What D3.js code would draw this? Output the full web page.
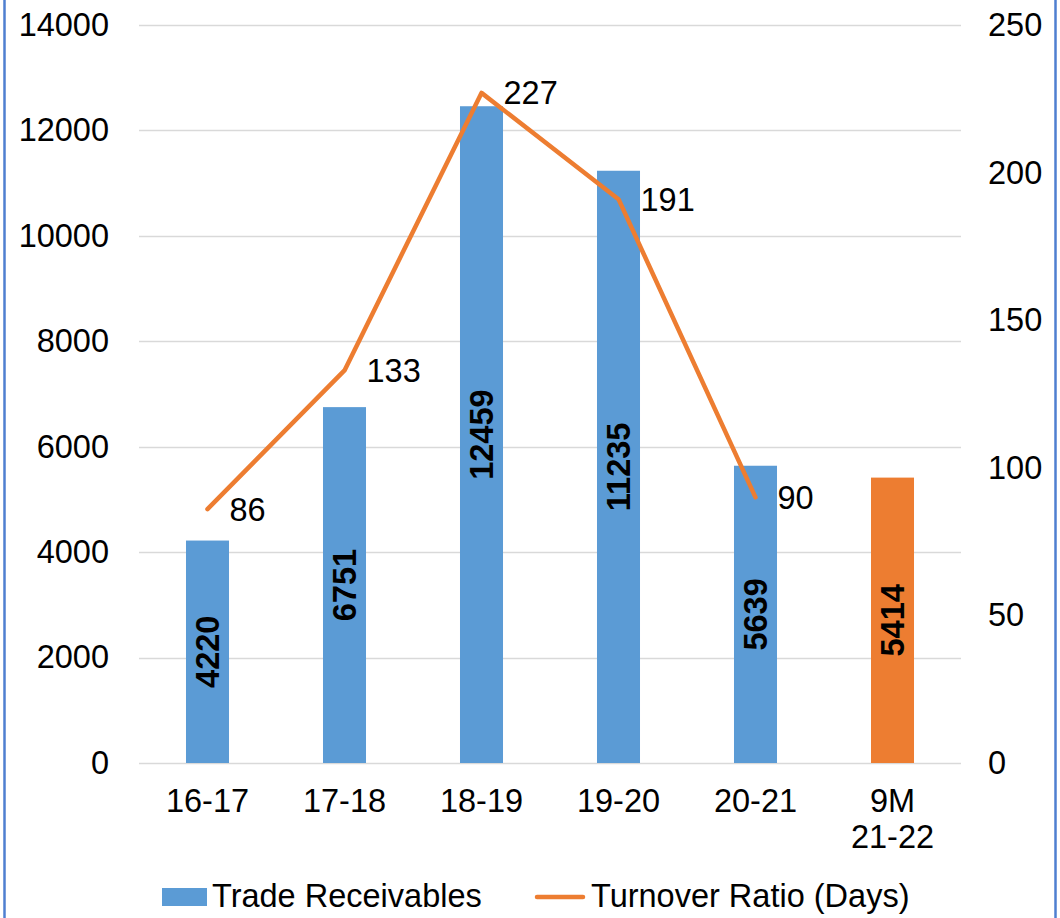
<!DOCTYPE html>
<html>
<head>
<meta charset="utf-8">
<script src="https://cdn.jsdelivr.net/npm/d3@7"></script>
<style>
  body { margin: 0; background: #fff; }
  svg { display: block; font-family: "Liberation Sans", Arial, sans-serif; }
</style>
</head>
<body>
<div id="chart"></div>
<script>
// chart data
var categories = ["16-17", "17-18", "18-19", "19-20", "20-21", "9M 21-22"];
var receivables = [4220, 6751, 12459, 11235, 5639, 5414];
var turnoverDays = [86, 133, 227, 191, 90, null];
var leftTicks = [0, 2000, 4000, 6000, 8000, 10000, 12000, 14000];
var rightTicks = [0, 50, 100, 150, 200, 250];

var width = 1060, height = 918;
var blue = "#5B9BD5", orange = "#ED7D31";
var fs = "32.5px";

var svg = d3.select("#chart")
    .append("svg")
    .attr("width", width)
    .attr("height", height);

// frame lines on the sides
svg.append("line").attr("x1", 4.5).attr("x2", 4.5).attr("y1", 0).attr("y2", height)
    .style("stroke", "#4F7FD0").style("stroke-width", 2.5);
svg.append("line").attr("x1", 1055.5).attr("x2", 1055.5).attr("y1", 0).attr("y2", height)
    .style("stroke", "#4F7FD0").style("stroke-width", 2.5);

var x = d3.scaleBand()
    .domain(categories)
    .range([139, 961])
    .paddingInner(0.686)
    .paddingOuter(0.343);

var yL = d3.scaleLinear().domain([0, 14000]).range([763, 25]);
var yR = d3.scaleLinear().domain([0, 250]).range([763, 25]);

// gridlines
svg.selectAll(".grid")
    .data(leftTicks)
    .enter().append("line")
    .attr("x1", 139)
    .attr("x2", 961)
    .attr("y1", function(d){ return Math.round(yL(d)) + 0.5; })
    .attr("y2", function(d){ return Math.round(yL(d)) + 0.5; })
    .style("stroke", "#d9d9d9")
    .style("stroke-width", 1.5);

// left axis
var leftAxis = svg.append("g")
    .attr("transform", "translate(109,0)")
    .call(d3.axisLeft(yL).tickValues(leftTicks).tickFormat(d3.format("d")).tickSize(0).tickPadding(0));
leftAxis.select(".domain").remove();
leftAxis.selectAll("text")
    .style("font-size", fs)
    .style("fill", "#000")
    .attr("dy", "0.32em");

// right axis
var rightAxis = svg.append("g")
    .attr("transform", "translate(988,0)")
    .call(d3.axisRight(yR).tickValues(rightTicks).tickFormat(d3.format("d")).tickSize(0).tickPadding(0));
rightAxis.select(".domain").remove();
rightAxis.selectAll("text")
    .style("font-size", fs)
    .style("fill", "#000")
    .attr("dy", "0.32em");

// bars
svg.selectAll(".bar")
    .data(receivables)
    .enter().append("rect")
    .attr("x", function(d, i){ return x(categories[i]); })
    .attr("width", x.bandwidth())
    .attr("y", function(d){ return yL(d); })
    .attr("height", function(d){ return yL(0) - yL(d); })
    .style("fill", function(d, i){ return i === categories.length - 1 ? orange : blue; });

// bar value labels (rotated, centred in bar)
svg.selectAll(".barlabel")
    .data(receivables)
    .enter().append("text")
    .attr("transform", function(d, i){
        var cx = x(categories[i]) + x.bandwidth() / 2;
        var cy = (yL(d) + yL(0)) / 2;
        return "translate(" + cx + "," + cy + ") rotate(-90)";
    })
    .attr("text-anchor", "middle")
    .attr("dy", "0.35em")
    .style("font-size", fs)
    .style("font-weight", "bold")
    .style("fill", "#000")
    .text(function(d){ return d; });

// turnover line
var linePts = turnoverDays
    .map(function(d, i){ return {c: categories[i], v: d}; })
    .filter(function(p){ return p.v !== null; });

var line = d3.line()
    .x(function(p){ return x(p.c) + x.bandwidth() / 2; })
    .y(function(p){ return yR(p.v); });

svg.append("path")
    .datum(linePts)
    .attr("d", line)
    .style("fill", "none")
    .style("stroke", orange)
    .style("stroke-width", 4.5)
    .style("stroke-linecap", "round")
    .style("stroke-linejoin", "round");

svg.selectAll(".linelabel")
    .data(linePts)
    .enter().append("text")
    .attr("x", function(p){ return x(p.c) + x.bandwidth() / 2 + 22; })
    .attr("y", function(p){ return yR(p.v); })
    .attr("dy", "0.35em")
    .style("font-size", fs)
    .style("fill", "#000")
    .text(function(p){ return p.v; });

// category labels
var xl = svg.selectAll(".xlabel")
    .data(categories)
    .enter().append("text")
    .attr("x", function(d){ return x(d) + x.bandwidth() / 2; })
    .attr("y", 812)
    .attr("text-anchor", "middle")
    .style("font-size", fs)
    .style("fill", "#000");
xl.each(function(d){
    var parts = d.split(" ");
    var t = d3.select(this);
    parts.forEach(function(p, j){
        t.append("tspan")
          .attr("x", x(d) + x.bandwidth() / 2)
          .attr("dy", j === 0 ? 0 : 36)
          .text(p);
    });
});

// legend
svg.append("rect")
    .attr("x", 162).attr("y", 888)
    .attr("width", 45).attr("height", 18)
    .style("fill", blue);
svg.append("text")
    .attr("x", 212).attr("y", 907)
    .style("font-size", fs)
    .style("fill", "#000")
    .text("Trade Receivables");
svg.append("line")
    .attr("x1", 537).attr("x2", 583)
    .attr("y1", 897).attr("y2", 897)
    .style("stroke", orange)
    .style("stroke-width", 4.5)
    .style("stroke-linecap", "round");
svg.append("text")
    .attr("x", 591).attr("y", 907)
    .style("font-size", fs)
    .style("fill", "#000")
    .text("Turnover Ratio (Days)");
</script>
</body>
</html>
